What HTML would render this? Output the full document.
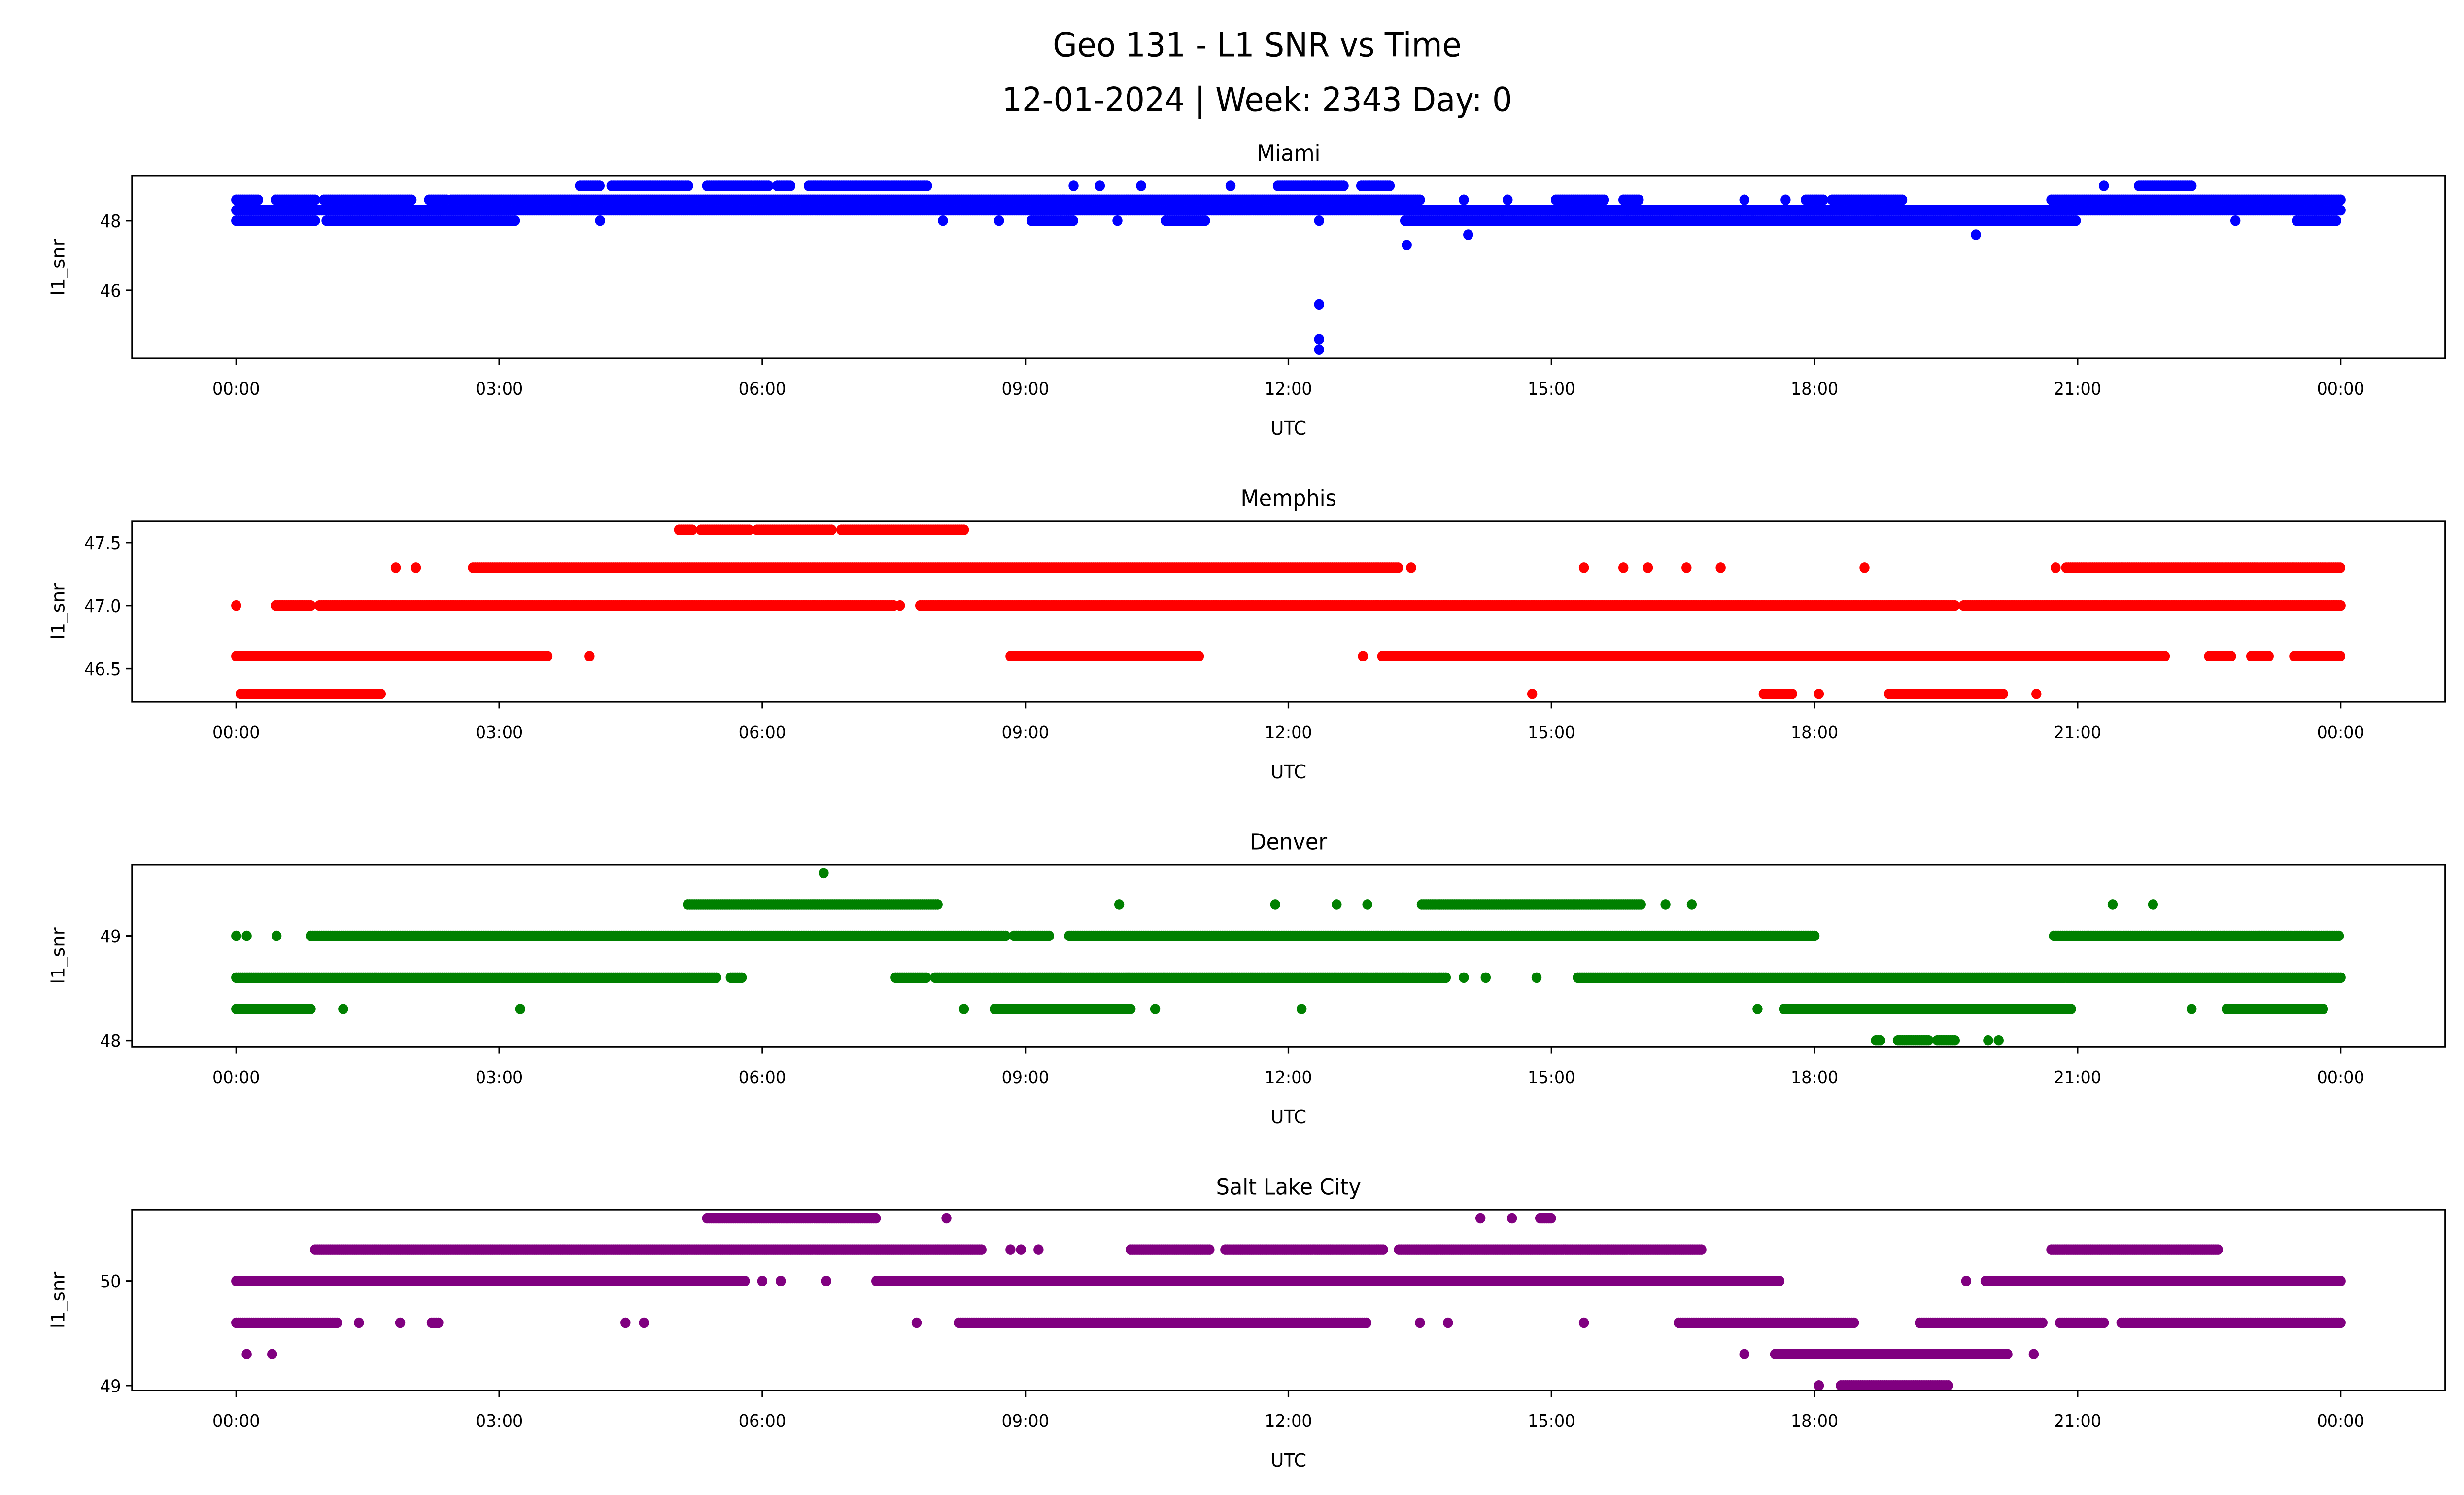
<!DOCTYPE html>
<html><head><meta charset="utf-8"><style>
html,body{margin:0;padding:0;background:#fff;overflow:hidden;width:100%;height:100%;}
svg{display:block;position:absolute;left:0;top:0;width:100vw;height:100vh;}
text{font-family:"DejaVu Sans","Liberation Sans",sans-serif;fill:#000;}
</style></head><body>
<svg id="fig" xmlns="http://www.w3.org/2000/svg" viewBox="0 0 1568 901" preserveAspectRatio="none">
<rect x="0" y="0" width="1568" height="901" fill="#fff"/>
<text x="800" y="34" font-size="20" text-anchor="middle">Geo 131 - L1 SNR vs Time</text>
<text x="800" y="67" font-size="20" text-anchor="middle">12-01-2024 | Week: 2343 Day: 0</text>
</svg>
<script>
// time ticks (hours)
const xTickHours = [0,3,6,9,12,15,18,21,24];
const xTickLabels = ["00:00","03:00","06:00","09:00","12:00","15:00","18:00","21:00","00:00"];

// Each series: levels and, per level, [start,end] hour intervals where points are present
const miamiLevels = [49.0, 48.6, 48.3, 48.0, 47.6, 47.3, 45.6, 44.6, 44.3];
const miamiSegs = [
 [[3.92,4.15],[4.28,5.17],[5.37,6.07],[6.17,6.34],[6.53,7.9],[9.55,9.55],[9.85,9.85],[10.32,10.32],[11.34,11.34],[11.88,12.63],[12.83,13.17],[21.3,21.3],[21.7,22.3]],
 [[0,0.25],[0.45,0.9],[1.0,2.0],[2.2,2.4],[2.45,13.5],[14.0,14.0],[14.5,14.5],[15.05,15.6],[15.82,16.0],[17.2,17.2],[17.67,17.67],[17.9,18.1],[18.2,19.0],[20.7,24]],
 [[0,24]],
 [[0,0.9],[1.03,3.2],[4.15,4.15],[8.06,8.06],[8.7,8.7],[9.07,9.55],[10.05,10.05],[10.6,11.07],[12.35,12.35],[13.33,20.98],[22.8,22.8],[23.5,23.95]],
 [[14.05,14.05],[19.84,19.84]],
 [[13.35,13.35]],
 [[12.35,12.35]],
 [[12.35,12.35]],
 [[12.35,12.35]]
];
const memphisLevels = [47.6, 47.3, 47.0, 46.6, 46.3];
const memphisSegs = [
 [[5.05,5.2],[5.3,5.87],[5.94,6.8],[6.9,8.3]],
 [[1.82,1.82],[2.05,2.05],[2.7,13.25],[13.4,13.4],[15.37,15.37],[15.82,15.82],[16.1,16.1],[16.54,16.54],[16.93,16.93],[18.57,18.57],[20.75,20.75],[20.87,24]],
 [[0,0],[0.45,0.85],[0.95,7.5],[7.57,7.57],[7.8,19.6],[19.7,24]],
 [[0,3.55],[4.03,4.03],[8.83,11.0],[12.85,12.85],[13.07,22.0],[22.5,22.75],[22.98,23.2],[23.47,24]],
 [[0.05,1.65],[14.78,14.78],[17.42,17.75],[18.05,18.05],[18.85,20.15],[20.53,20.53]]
];
const denverLevels = [49.6, 49.3, 49.0, 48.6, 48.3, 48.0];
const denverSegs = [
 [[6.7,6.7]],
 [[5.15,8.0],[10.07,10.07],[11.85,11.85],[12.55,12.55],[12.9,12.9],[13.52,16.02],[16.3,16.3],[16.6,16.6],[21.4,21.4],[21.86,21.86]],
 [[0,0],[0.12,0.12],[0.46,0.46],[0.85,8.78],[8.87,9.28],[9.5,18.0],[20.73,24]],
 [[0,5.48],[5.64,5.77],[7.52,7.88],[7.97,13.8],[14.0,14.0],[14.25,14.25],[14.83,14.83],[15.3,24]],
 [[0,0.86],[1.22,1.22],[3.24,3.24],[8.3,8.3],[8.65,10.2],[10.48,10.48],[12.15,12.15],[17.35,17.35],[17.65,20.93],[22.3,22.3],[22.7,23.8]],
 [[18.7,18.75],[18.95,19.3],[19.4,19.62],[19.98,19.98],[20.1,20.1]]
];
const slcLevels = [50.6, 50.3, 50.0, 49.6, 49.3, 49.0];
const slcSegs = [
 [[5.37,7.3],[8.1,8.1],[14.19,14.19],[14.55,14.55],[14.87,15.0]],
 [[0.9,8.5],[8.83,8.83],[8.95,8.95],[9.15,9.15],[10.2,11.1],[11.28,13.08],[13.26,16.72],[20.7,22.6]],
 [[0,5.82],[6.0,6.0],[6.21,6.21],[6.73,6.73],[7.3,17.6],[19.73,19.73],[19.95,24]],
 [[0,1.16],[1.4,1.4],[1.87,1.87],[2.23,2.32],[4.44,4.44],[4.65,4.65],[7.76,7.76],[8.24,12.9],[13.5,13.5],[13.82,13.82],[15.37,15.37],[16.45,18.45],[19.2,20.6],[20.8,21.3],[21.5,24]],
 [[0.12,0.12],[0.41,0.41],[17.2,17.2],[17.55,20.2],[20.5,20.5]],
 [[18.05,18.05],[18.3,19.53]]
];

const yTicksMiami=[46,48], yTicksMemphis=[46.5,47.0,47.5], yTicksDenver=[48,49], yTicksSlc=[49,50];

const NS="http://www.w3.org/2000/svg";
const svg=document.getElementById('fig');
const AX_L=84, AX_R=1556, X0=150.3, PXH=55.8;
function xScale(h){return X0+h*PXH;}
function mk(tag,attrs){const e=document.createElementNS(NS,tag);for(const k in attrs)e.setAttribute(k,attrs[k]);return e;}

const panels=[
 {title:"Miami",key:"miami",color:"#0000ff",top:106,bot:216,refV:48,refY:133,ppu:21,levels:miamiLevels,segs:miamiSegs,ticks:yTicksMiami,fmt:v=>String(v)},
 {title:"Memphis",key:"memphis",color:"#ff0000",top:314,bot:423,refV:47,refY:365,ppu:76,levels:memphisLevels,segs:memphisSegs,ticks:yTicksMemphis,fmt:v=>v.toFixed(1)},
 {title:"Denver",key:"denver",color:"#008000",top:521,bot:631,refV:49,refY:564,ppu:63,levels:denverLevels,segs:denverSegs,ticks:yTicksDenver,fmt:v=>String(v)},
 {title:"Salt Lake City",key:"salt-lake-city",color:"#800080",top:729,bot:838,refV:50,refY:772,ppu:63,levels:slcLevels,segs:slcSegs,ticks:yTicksSlc,fmt:v=>String(v)}
];

panels.forEach(p=>{
 const g=mk('g',{});
 
 
 svg.appendChild(g);
 const yScale=v=>p.refY-(v-p.refV)*p.ppu;
 const pts=mk('g',{fill:p.color});
 
 
 g.appendChild(pts);
 p.levels.forEach((lv,i)=>{
  const y=yScale(lv);
  p.segs[i].forEach(s=>{
   for(let t=s[0]; t<=s[1]+1e-9; t+=0.025){
    const c=mk('circle',{cx:xScale(t).toFixed(2),cy:y.toFixed(2),r:3.2});
    
    
    pts.appendChild(c);
   }
  });
 });
 const fr=mk('rect',{x:AX_L,y:p.top,width:AX_R-AX_L,height:p.bot-p.top,fill:'none',stroke:'#000','stroke-width':1});
 
 
 g.appendChild(fr);
 xTickHours.forEach((h,i)=>{
  const x=xScale(h);
  g.appendChild(mk('line',{x1:x,x2:x,y1:p.bot,y2:p.bot+4,stroke:'#000','stroke-width':1}));
  const t=mk('text',{x:x,y:p.bot+22,'font-size':10.5,'text-anchor':'middle'});
  t.textContent=xTickLabels[i];
  
  
  g.appendChild(t);
 });
 p.ticks.forEach(v=>{
  const y=yScale(v);
  g.appendChild(mk('line',{x1:AX_L-4,x2:AX_L,y1:y,y2:y,stroke:'#000','stroke-width':1}));
  const t=mk('text',{x:AX_L-7,y:y+4,'font-size':10.5,'text-anchor':'end'});
  t.textContent=p.fmt(v);
  
  
  g.appendChild(t);
 });
 const xl=mk('text',{x:(AX_L+AX_R)/2,y:p.bot+46,'font-size':11.5,'text-anchor':'middle'});
 xl.textContent='UTC';
 
 
 g.appendChild(xl);
 const yc=(p.top+p.bot)/2;
 const yl=mk('text',{x:0,y:0,'font-size':11.5,'text-anchor':'middle',transform:`translate(41,${yc}) rotate(-90)`});
 yl.textContent='l1_snr';
 
 
 g.appendChild(yl);
 const tt=mk('text',{x:(AX_L+AX_R)/2,y:p.top-9,'font-size':13.5,'text-anchor':'middle'});
 tt.textContent=p.title;
 
 
 g.appendChild(tt);
});
</script>
</body></html>
